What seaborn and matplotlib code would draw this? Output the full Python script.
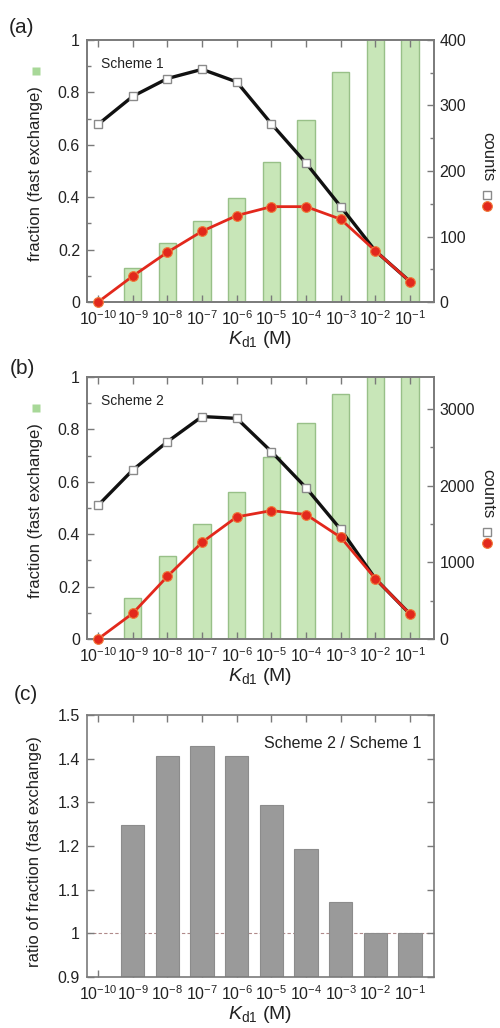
import numpy as np
import pandas as pd
import matplotlib
matplotlib.use("Agg")
import matplotlib.pyplot as plt
import seaborn as sns
from matplotlib.ticker import MultipleLocator, FuncFormatter

# ---------------- data ----------------
exponents = [-10, -9, -8, -7, -6, -5, -4, -3, -2, -1]
tick_labels = [r"$10^{-10}$", r"$10^{-9}$", r"$10^{-8}$", r"$10^{-7}$", r"$10^{-6}$",
               r"$10^{-5}$", r"$10^{-4}$", r"$10^{-3}$", r"$10^{-2}$", r"$10^{-1}$"]

s1_square = [0.678, 0.785, 0.853, 0.888, 0.840, 0.680, 0.530, 0.364, 0.195, 0.078]
s1_circle = [0.000, 0.099, 0.190, 0.270, 0.330, 0.364, 0.364, 0.316, 0.195, 0.078]
s1_counts = [np.nan, 52, 90, 124, 159, 214, 278, 351, 430, 470]

s2_square = [0.510, 0.645, 0.753, 0.849, 0.842, 0.715, 0.577, 0.418, 0.230, 0.095]
s2_circle = [0.000, 0.098, 0.239, 0.369, 0.466, 0.490, 0.475, 0.388, 0.230, 0.095]
s2_counts = [np.nan, 535, 1078, 1500, 1917, 2370, 2825, 3200, 3700, 4000]

ratio = [np.nan, 1.249, 1.407, 1.430, 1.405, 1.293, 1.192, 1.072, 1.000, 1.000]

# ---------------- style ----------------
sns.set_style("ticks")
plt.rcParams["font.family"] = ["Liberation Sans", "DejaVu Sans"]
plt.rcParams["mathtext.fontset"] = "custom"
plt.rcParams["mathtext.rm"] = "Liberation Sans"
plt.rcParams["mathtext.it"] = "Liberation Sans:italic"
plt.rcParams["mathtext.bf"] = "Liberation Sans:bold"
plt.rcParams["text.color"] = "#222222"
plt.rcParams["axes.labelcolor"] = "#222222"
plt.rcParams["xtick.color"] = "#7a7a7a"
plt.rcParams["ytick.color"] = "#7a7a7a"
plt.rcParams["xtick.labelcolor"] = "#222222"
plt.rcParams["ytick.labelcolor"] = "#222222"

SPINE = "#7a7a7a"
GREEN_FILL = "#c8e6b8"
GREEN_EDGE = "#98c088"
RED = "#e2281c"
RED_EDGE = "#f07a3a"
GRAY_BAR = "#9a9a9a"
XLIM = (-10.32, -0.31)
TICKFS = 11.5

fig = plt.figure(figsize=(5, 10.28), dpi=100)


def style_spines(ax):
    for sp in ax.spines.values():
        sp.set_color(SPINE)
        sp.set_linewidth(1.2)


def fraction_panel(rect, sq, ci, counts, cmax, cmajor, cminor, scheme, letter, letter_y):
    ax = fig.add_axes(rect)
    ax2 = ax.twinx()
    df = pd.DataFrame({"exp": exponents, "square": sq, "circle": ci, "counts": counts})
    sns.barplot(data=df.dropna(subset=["counts"]), x="exp", y="counts", native_scale=True,
                width=0.5, color=GREEN_FILL, edgecolor=GREEN_EDGE, linewidth=1.0,
                saturation=1, errorbar=None, ax=ax2)
    sns.lineplot(data=df, x="exp", y="square", color="#111111", lw=2.4, marker="s",
                 markersize=6, markerfacecolor="white", markeredgecolor="#8a8a8a",
                 markeredgewidth=1.0, markevery=slice(0, 8), clip_on=False, ax=ax, zorder=3)
    sns.lineplot(data=df, x="exp", y="circle", color=RED, lw=2.0, marker="o",
                 markersize=7, markerfacecolor=RED, markeredgecolor=RED_EDGE,
                 markeredgewidth=0.8, clip_on=False, ax=ax, zorder=4)
    ax.set_zorder(ax2.get_zorder() + 1)
    ax.patch.set_visible(False)

    ax.set_xlim(*XLIM)
    ax.set_xticks(exponents)
    ax.set_xticklabels(tick_labels, fontsize=TICKFS)
    ax.set_ylim(0, 1)
    ax.yaxis.set_major_locator(MultipleLocator(0.2))
    ax.yaxis.set_minor_locator(MultipleLocator(0.1))
    ax.yaxis.set_major_formatter(FuncFormatter(lambda v, p: f"{round(v, 2):g}"))
    ax.tick_params(axis="both", which="both", direction="in", width=1.0, labelsize=TICKFS)
    ax.tick_params(axis="x", top=True, length=5, pad=5)
    ax.tick_params(axis="y", which="major", length=5, right=False, pad=5)
    ax.tick_params(axis="y", which="minor", length=3, right=False)

    ax2.set_ylim(0, cmax)
    ax2.yaxis.set_major_locator(MultipleLocator(cmajor))
    ax2.yaxis.set_minor_locator(MultipleLocator(cminor))
    ax2.yaxis.set_major_formatter(FuncFormatter(lambda v, p: f"{v:.0f}"))
    ax2.tick_params(axis="y", which="both", direction="in", width=1.0, labelsize=TICKFS, pad=4)
    ax2.tick_params(axis="y", which="major", length=5)
    ax2.tick_params(axis="y", which="minor", length=3)
    ax2.set_xlim(*XLIM)
    ax2.set_ylabel("")
    ax2.set_xlabel("")

    ax.set_ylabel("")
    ax.set_xlabel(r"$K_{\rm d1}$ (M)", fontsize=14, labelpad=1)
    style_spines(ax)
    style_spines(ax2)

    ax.text(-0.148, 0.49, "fraction (fast exchange)", rotation=90, ha="center", va="center",
            fontsize=12, transform=ax.transAxes)
    ax.plot([-0.148], [0.88], marker="s", ms=6, color="#a8d898", mec="none",
            transform=ax.transAxes, clip_on=False)
    ax2.text(1.156, 0.555, "counts", rotation=270, ha="center", va="center",
             fontsize=12, transform=ax2.transAxes)
    ax2.plot([1.153], [0.407], marker="s", ms=6, mfc="white", mec="#8a8a8a", mew=1.0,
             transform=ax2.transAxes, clip_on=False)
    ax2.plot([1.153], [0.367], marker="o", ms=7, mfc=RED, mec=RED_EDGE, mew=0.8,
             transform=ax2.transAxes, clip_on=False)
    ax.text(0.04, 0.91, scheme, ha="left", va="center", fontsize=10, transform=ax.transAxes)
    fig.text(0.044, letter_y, letter, ha="center", va="center", fontsize=15)
    return ax


fraction_panel([0.174, 0.7062, 0.694, 0.2549], s1_square, s1_circle, s1_counts,
               400, 100, 50, "Scheme 1", "(a)", 0.9728)
fraction_panel([0.174, 0.3784, 0.694, 0.2549], s2_square, s2_circle, s2_counts,
               3420, 1000, 500, "Scheme 2", "(b)", 0.642)

# ---------------- panel c ----------------
axC = fig.add_axes([0.174, 0.0496, 0.694, 0.2549])
dfc = pd.DataFrame({"exp": exponents, "ratio": ratio}).dropna()
sns.barplot(data=dfc, x="exp", y="ratio", native_scale=True, width=0.67, color=GRAY_BAR,
            edgecolor="#8c8c8c", linewidth=0.8, saturation=1, errorbar=None, ax=axC)
axC.axhline(1.0, color="#b08a8a", lw=0.8, ls=(0, (3, 2)), zorder=0.5)
axC.set_xlim(*XLIM)
axC.set_xticks(exponents)
axC.set_xticklabels(tick_labels, fontsize=TICKFS)
axC.set_ylim(0.9, 1.5)
axC.yaxis.set_major_locator(MultipleLocator(0.1))
axC.yaxis.set_major_formatter(FuncFormatter(lambda v, p: f"{round(v, 2):g}"))
axC.tick_params(axis="both", which="both", direction="in", width=1.0, labelsize=TICKFS,
                length=5, top=True, right=True, labelright=False)
axC.tick_params(axis="x", pad=5)
axC.tick_params(axis="y", pad=5)
axC.set_ylabel("")
axC.set_xlabel(r"$K_{\rm d1}$ (M)", fontsize=14, labelpad=1)
style_spines(axC)
axC.text(-0.15, 0.48, "ratio of fraction (fast exchange)", rotation=90, ha="center",
         va="center", fontsize=12, transform=axC.transAxes)
axC.text(0.965, 0.892, "Scheme 2 / Scheme 1", ha="right", va="center", fontsize=11.5,
         transform=axC.transAxes)
fig.text(0.052, 0.324, "(c)", ha="center", va="center", fontsize=15)

fig.savefig("out.png", dpi=100, facecolor="white")
